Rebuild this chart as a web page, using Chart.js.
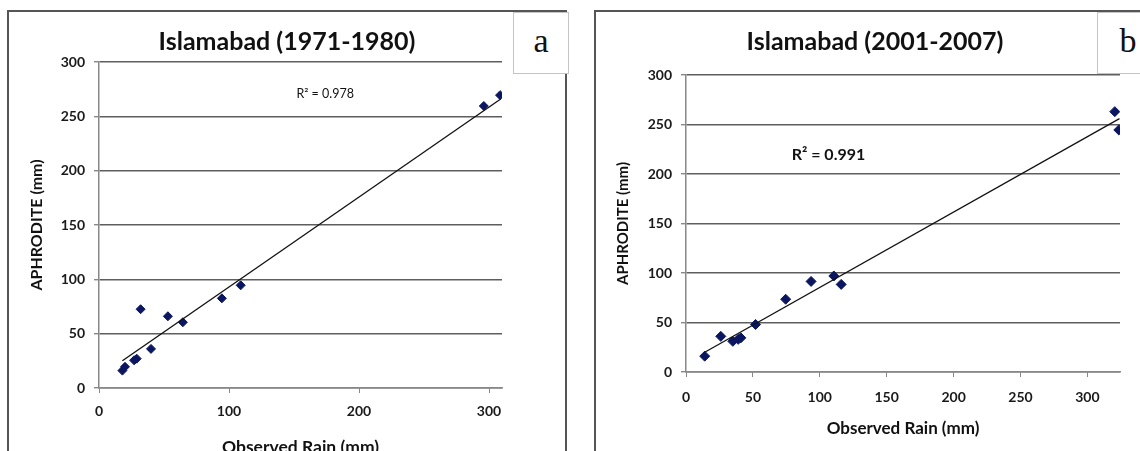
<!DOCTYPE html>
<html>
<head>
<meta charset="utf-8">
<script src="https://cdn.jsdelivr.net/npm/chart.js@4.4.1/dist/chart.umd.min.js"></script>
<style>
body{margin:0;width:1140px;height:451px;overflow:hidden;background:#fff;position:relative;font-family:Lato,sans-serif}
.frame{position:absolute;border:2px solid #555;background:#fff}
.tag{position:absolute;background:#fff;border:1px solid #c4c4c4;font-family:"Liberation Serif",serif;font-size:34px;text-align:center;line-height:56px;color:#111}
.wrap{position:absolute}
</style>
</head>
<body>
<div class="frame" style="left:7px;top:10px;width:556px;height:500px"></div>
<div class="frame" style="left:594px;top:10px;width:600px;height:500px"></div>
<div class="wrap" style="left:8px;top:11px;width:558px;height:460px"><canvas id="chartA"></canvas></div>
<div class="wrap" style="left:595px;top:11px;width:560px;height:460px"><canvas id="chartB"></canvas></div>
<div class="tag" style="left:513px;top:12px;width:54px;height:60px">a</div>
<div class="tag" style="left:1097px;top:12px;width:60px;height:60px">b</div>
<script>
// panel a : 1971-1980
var obsA = [18, 20, 27, 29, 32, 40, 53, 64.5, 94.5, 109, 296, 308.5];
var aphA = [16, 19.5, 25.5, 27, 72.5, 36, 66, 60.5, 82.5, 94.5, 259.5, 269.5];
var trendAx = [18, 309];
var trendAy = [25, 266];
var xTicksA = [0, 100, 200, 300];

// panel b : 2001-2007
var obsB = [14, 26, 35, 39, 41, 52, 74.5, 93.5, 110.5, 116, 320.5, 323.5];
var aphB = [16, 36, 31, 33, 34.5, 48, 73.5, 91.5, 97, 88.5, 263, 244.5];
var trendBx = [14, 324];
var trendBy = [20, 256];
var xTicksB = [0, 50, 100, 150, 200, 250, 300];

var yTicks = [0, 50, 100, 150, 200, 250, 300];

function pts(xs, ys){
  return xs.map(function(v, i){ return {x: v, y: ys[i]}; });
}

var r2Label = {
  id: 'r2Label',
  afterDatasetsDraw: function(chart, args, opts){
    var ctx = chart.ctx, x = chart.scales.x, y = chart.scales.y;
    ctx.save();
    ctx.font = opts.font;
    ctx.fillStyle = '#111';
    ctx.textAlign = 'center';
    ctx.textBaseline = 'middle';
    ctx.fillText(opts.text, x.getPixelForValue(opts.at[0]), y.getPixelForValue(opts.at[1]));
    ctx.restore();
  }
};

function makeChart(id, o){
  var ctx = document.getElementById(id).getContext('2d');
  return new Chart(ctx, {
    type: 'scatter',
    data: {
      datasets: [{
        data: pts(o.tx, o.ty),
        showLine: true,
        borderColor: '#111',
        borderWidth: 1.3,
        pointRadius: 0
      }, {
        data: pts(o.xs, o.ys),
        pointStyle: 'rectRot',
        pointRadius: o.r,
        backgroundColor: '#0b1660',
        borderColor: '#0b1660',
        borderWidth: 1
      }]
    },
    plugins: [r2Label],
    options: {
      responsive: true,
      maintainAspectRatio: false,
      animation: false,
      layout: {padding: 0},
      plugins: {
        legend: {display: false},
        tooltip: {enabled: false},
        title: {
          display: true,
          text: o.title,
          color: '#111',
          font: {family: 'Lato', size: 25, weight: 'bold'},
          padding: {top: 15.5, bottom: o.titleGap}
        },
        r2Label: o.r2
      },
      scales: {
        x: {
          type: 'linear', min: 0, max: o.xmax,
          afterBuildTicks: function(s){ s.ticks = o.xticks.map(function(v){ return {value: v}; }); },
          afterFit: function(s){ s.height = o.xh; },
          grid: {drawOnChartArea: false, tickLength: 5, color: '#888', tickColor: '#888'},
          border: {color: '#888', width: 1.5},
          ticks: {color: '#1a1a1a', padding: o.xpad, maxRotation: 0, font: {family: 'Lato', size: 14, weight: 'bold'}},
          title: {display: true, text: 'Observed Rain (mm)', color: '#111',
                  font: {family: 'Lato', size: o.xtsize, weight: 'bold'}, padding: {top: 0, bottom: o.xtpad}}
        },
        y: {
          type: 'linear', min: 0, max: 300,
          afterBuildTicks: function(s){ s.ticks = yTicks.map(function(v){ return {value: v}; }); },
          afterFit: function(s){ s.width = 91; },
          grid: {color: '#5e5e5e', lineWidth: 1.4, tickLength: 5, tickColor: '#888'},
          border: {color: '#888', width: 1.5},
          ticks: {color: '#1a1a1a', padding: 9, font: {family: 'Lato', size: 14, weight: 'bold'}},
          title: {display: true, text: 'APHRODITE (mm)', color: '#111',
                  font: {family: 'Lato', size: o.ytsize, weight: 'bold'}, padding: {top: o.ytpad, bottom: 0}}
        },
        pad: {
          type: 'linear', position: 'right', display: true,
          grid: {display: false}, border: {display: false}, ticks: {display: false},
          afterFit: function(s){ s.width = o.rightPad; }
        }
      }
    }
  });
}

makeChart('chartA', {
  title: 'Islamabad (1971-1980)',
  xs: obsA, ys: aphA, tx: trendAx, ty: trendAy,
  xticks: xTicksA, xmax: 310, r: 4.5,
  titleGap: 5.5, xh: 83, xpad: 9.6, xtsize: 17.5, xtpad: 13.5, rightPad: 64,
  ytsize: 16, ytpad: 19.4,
  r2: {text: 'R² = 0.978', at: [174, 271], font: '12.5px Lato'}
});

makeChart('chartB', {
  title: 'Islamabad (2001-2007)',
  xs: obsB, ys: aphB, tx: trendBx, ty: trendBy,
  xticks: xTicksB, xmax: 324.4, r: 5,
  titleGap: 18.5, xh: 99, xpad: 11.6, xtsize: 17, xtpad: 32.5, rightPad: 35,
  ytsize: 15, ytpad: 19,
  r2: {text: 'R² = 0.991', at: [106.5, 219], font: 'bold 16px Lato'}
});
</script>
</body>
</html>
